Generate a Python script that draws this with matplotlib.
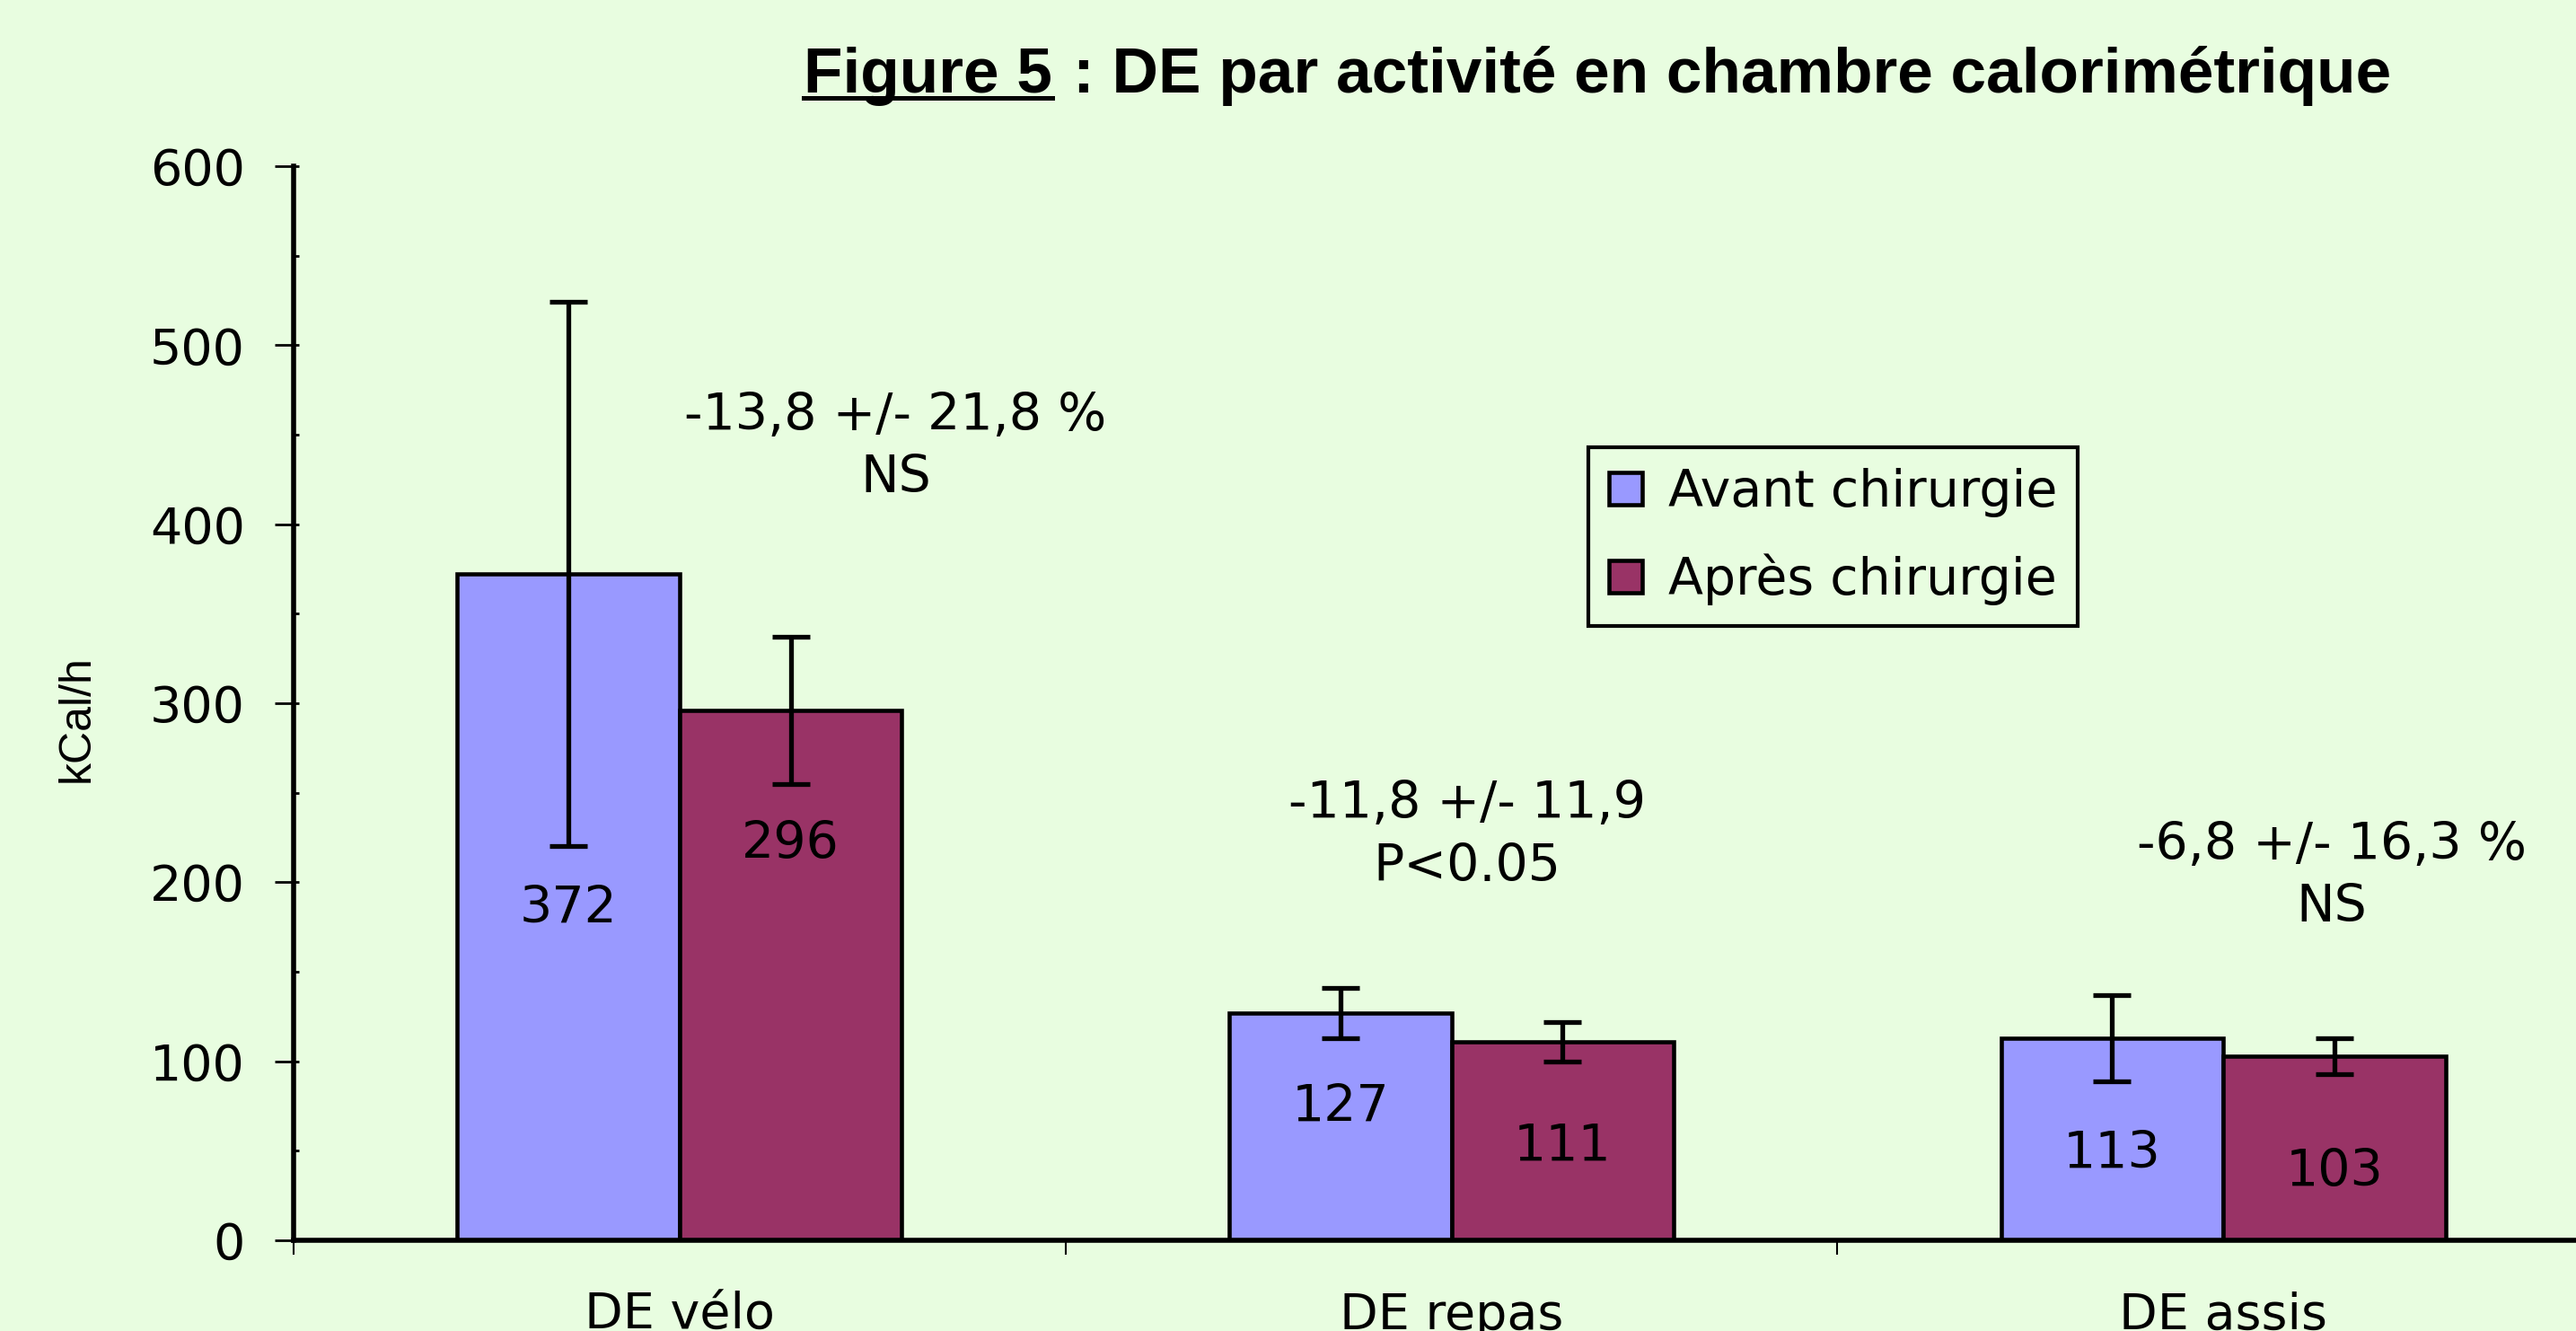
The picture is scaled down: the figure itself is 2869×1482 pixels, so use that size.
# DE par activite - chambre calorimetrique (bar chart with error bars)

import matplotlib
matplotlib.use('Agg')
from matplotlib import pyplot as plt
from matplotlib.lines import Line2D
from matplotlib.ticker import MultipleLocator
import numpy as np

categories = ["DE vélo", "DE repas", "DE assis"]
avant = [372, 127, 113]
apres = [296, 111, 103]
avant_err = [152, 14, 24]
apres_err = [41, 11, 10]
labels = ["Avant chirurgie", "Après chirurgie"]
notes = ["-13,8 +/- 21,8 %\nNS", "-11,8 +/- 11,9\nP<0.05", "-6,8 +/- 16,3 %\nNS"]

# where the value labels and the notes were put in the original slide (kCal/h)
avant_label_y = [185, 74, 48]
apres_label_y = [221, 52, 38]
notes_x = [0.28, 1.02, 2.14]
notes_y = [443, 226, 203]

bg = "#E8FDE0"
colors = ["#9999FF", "#993366"]

plt.rcParams['font.family'] = 'DejaVu Sans'
plt.rcParams['font.size'] = 41

fig = plt.figure(figsize=(28.69, 14.82), dpi=100, facecolor=bg)
ax = fig.add_axes([0.1140, 0.0682, 0.8989, 0.8070])
ax.set_facecolor(bg)

x = np.arange(len(categories))
w = 0.288
err_kw = dict(elinewidth=3.8, capsize=15, capthick=3.8, ecolor='black')
ax.bar(x - w / 2, avant, w, color=colors[0], edgecolor='black', linewidth=3.3,
       yerr=avant_err, error_kw=err_kw, label=labels[0])
ax.bar(x + w / 2, apres, w, color=colors[1], edgecolor='black', linewidth=3.3,
       yerr=apres_err, error_kw=err_kw, label=labels[1])

for i in range(len(categories)):
    ax.text(x[i] - w / 2, avant_label_y[i], str(avant[i]), ha='center', va='center')
    ax.text(x[i] + w / 2, apres_label_y[i], str(apres[i]), ha='center', va='center')
    ax.text(notes_x[i], notes_y[i], notes[i], ha='center', va='center',
            multialignment='center', linespacing=1.33)

ax.set_xlim(-0.5, 2.5)
ax.set_ylim(0, 600)
ax.set_yticks(range(0, 601, 100))
ax.yaxis.set_minor_locator(MultipleLocator(50))
ax.yaxis.remove_overlapping_locs = False
ax.tick_params(axis='y', which='major', direction='out', length=15, width=2,
               pad=24, labelsize=40)
ax.tick_params(axis='y', which='minor', direction='in', length=4, width=2)

# category ticks sit between the groups, labels under the group centres
ax.set_xticks([-0.5, 0.5, 1.5, 2.5])
ax.set_xticklabels([])
ax.set_xticks(x, minor=True)
ax.set_xticklabels(categories, minor=True)
ax.tick_params(axis='x', which='major', direction='out', length=11.5, width=1.5)
ax.tick_params(axis='x', which='minor', length=0, pad=41, labelsize=40)

for s in ['top', 'right']:
    ax.spines[s].set_visible(False)
ax.spines['left'].set_linewidth(4)
ax.spines['bottom'].set_linewidth(4)

fig.text(86 / 2869, 1 - 800 / 1482, "kCal/h", rotation=90, ha='center', va='center',
         fontsize=36, family=['Liberation Sans Narrow', 'Liberation Sans', 'DejaVu Sans'])

leg = ax.legend(loc='upper left', bbox_to_anchor=(1769 / 2869, 1 - 498 / 1482),
                bbox_transform=fig.transFigure, fancybox=False, framealpha=1,
                facecolor=bg, edgecolor='black', fontsize=41, handlelength=0.66,
                handleheight=0.6, handletextpad=0.5, labelspacing=0.72,
                borderpad=0.4, borderaxespad=0)
leg.get_frame().set_linewidth(3)

# title: "Figure 5" underlined, the rest follows
tfont = dict(fontsize=51.3, weight='bold', family=['Liberation Sans', 'DejaVu Sans'])
t1 = fig.text(895 / 2869, 1 - 103 / 1482, "Figure 5", ha='left', va='baseline', **tfont)
fig.canvas.draw()
bb = t1.get_window_extent()
fig.text((bb.x1 + 23) / 2869, 1 - 103 / 1482, ": DE par activité en chambre calorimétrique",
         ha='left', va='baseline', **tfont)
uy = 1 - 109 / 1482
fig.add_artist(Line2D([bb.x0 / 2869, bb.x1 / 2869], [uy, uy], color='black',
                      linewidth=3.6, transform=fig.transFigure))

plt.savefig('out.png', dpi=100, facecolor=bg)
